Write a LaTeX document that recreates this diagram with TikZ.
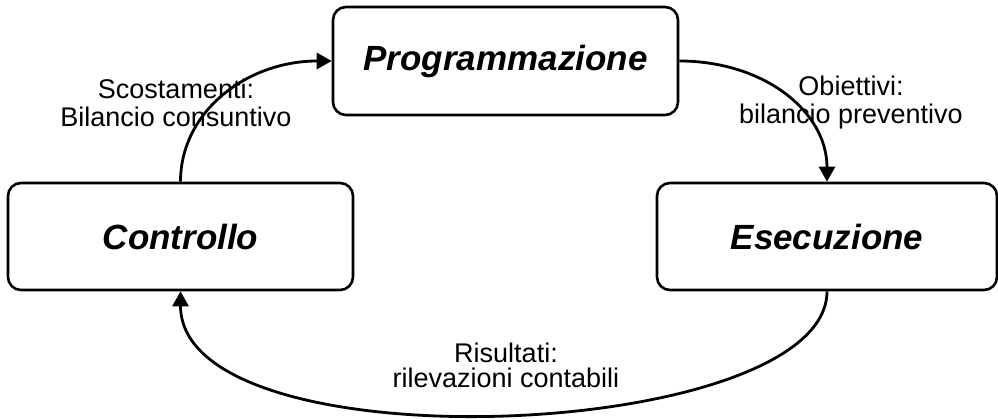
\documentclass[tikz,border=0pt]{standalone}
\usepackage{fontspec}
\setmainfont{Liberation Sans}
\usetikzlibrary{arrows.meta}

\begin{document}
\begin{tikzpicture}[x=1pt,y=1pt,
  phase/.style={draw=black, line width=2.6pt, rounded corners=13pt, fill=white,
    inner sep=0pt, font=\fontsize{35}{42}\selectfont\bfseries\itshape},
  flow/.style={line width=2.8pt, -{Triangle[length=15pt,width=16pt]}},
  note/.style={align=center, anchor=north, inner sep=0pt,
    font=\fontsize{27}{28.5}\selectfont}]
  \useasboundingbox (0,0) rectangle (998,419);

  % the three phases of the cycle
  \node[phase, minimum width=345pt, minimum height=108pt] (prog) at (505.5,358) {Programmazione};
  \node[phase, minimum width=345pt, minimum height=107pt] (ctrl) at (180.5,182.5) {Controllo};
  \node[phase, minimum width=340pt, minimum height=107pt] (esec) at (827,182.5) {Esecuzione};

  % connectors
  \draw[flow] (ctrl.north) .. controls +(0,70) and +(-85,0) .. (prog.west);
  \draw[flow] (prog.east) .. controls +(85,0) and +(0,70) .. (esec.north);
  \draw[flow] (esec.south) .. controls +(0,-150) and +(0,-178) .. (ctrl.south);

  % labels of the flows
  \node[note] (scost) at (176,340.5) {Scostamenti:\\Bilancio consuntivo};
  \node[note] (obiet) at (851,343.5) {Obiettivi:\\bilancio preventivo};
  \node[note] (risult) at (506,76.5) {Risultati:\\[-3pt]rilevazioni contabili};
\end{tikzpicture}
\end{document}
